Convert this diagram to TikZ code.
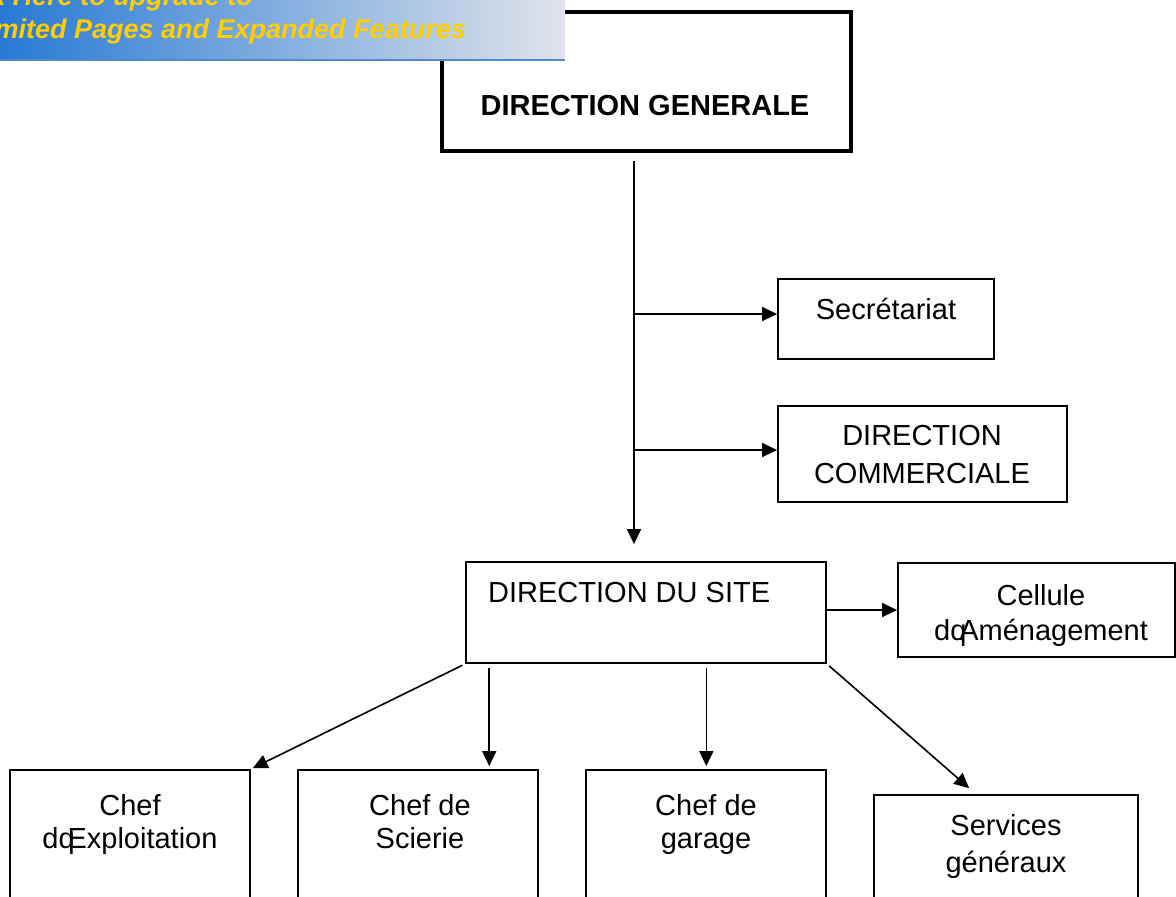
\documentclass[tikz,border=0pt]{standalone}
\usepackage{fontspec}
\setmainfont{Liberation Sans}
\usetikzlibrary{positioning,arrows.meta,calc}
\definecolor{bannerblue}{RGB}{38,120,212}
\definecolor{bannermid}{RGB}{125,168,222}
\definecolor{bannergrey}{RGB}{224,228,234}
\definecolor{bannerline}{RGB}{78,138,208}
\definecolor{bannertext}{RGB}{255,206,0}
\tikzset{
    x=1pt,
    y=-1pt,
    block/.style = {
        draw,
        shape=rectangle,
        inner sep=0pt,
        line width=1.8pt
    },
    chief/.style = {
        block,
        line width=4.5pt
    },
    boxtext/.style = {
        inner sep=0pt,
        anchor=base,
        align=center,
        font=\fontsize{29}{33}\selectfont
    },
    bannerfont/.style = {
        inner sep=0pt,
        text=bannertext,
        font=\fontsize{27}{32}\selectfont\bfseries\itshape
    },
    link/.style = {
        draw,
        line width=1.6pt
    },
    >={Triangle[length=15pt,width=14pt]},
}

\begin{document}
\begin{tikzpicture}
    \useasboundingbox (0,0) rectangle (1176,897);
    \clip (0,0) rectangle (1176,897);

    \node[chief, minimum width=409pt, minimum height=139pt] (dg) at (646.5,81.5) {};
    \node[block, minimum width=216pt, minimum height=80pt] (sec) at (886,319) {};
    \node[block, minimum width=289pt, minimum height=96pt] (dc) at (922.5,454) {};
    \node[block, minimum width=360pt, minimum height=101pt] (dds) at (646,612.5) {};
    \node[block, minimum width=277pt, minimum height=94pt] (cel) at (1036.5,610) {};
    \node[block, minimum width=240pt, minimum height=180pt] (exp) at (130,860) {};
    \node[block, minimum width=240pt, minimum height=180pt] (sci) at (418,860) {};
    \node[block, minimum width=240pt, minimum height=180pt] (gar) at (706,860) {};
    \node[block, minimum width=264pt, minimum height=155pt] (svc) at (1006,872.5) {};

    % two-line texts sit on the baseline of their last line
    \node[boxtext, font=\fontsize{29}{33}\selectfont\bfseries] (dgtext) at (645,115) {DIRECTION GENERALE};
    \node[boxtext] (sectext) at (886,319) {Secrétariat};
    \node[boxtext, font=\fontsize{29}{38}\selectfont] (dctext) at (922,483) {DIRECTION\\COMMERCIALE};
    \node[boxtext, anchor=base west] (ddstext) at (488,602) {DIRECTION DU SITE};
    \node[boxtext, font=\fontsize{29}{35}\selectfont] (celtext) at (1041,640) {Cellule\\d\rlap{q}\hspace{.31em}Aménagement};
    \node[boxtext] (exptext) at (130,848) {Chef\\d\rlap{q}\hspace{.31em}Exploitation};
    \node[boxtext] (scitext) at (420,848) {Chef de\\Scierie};
    \node[boxtext] (gartext) at (706,848) {Chef de\\garage};
    \node[boxtext, font=\fontsize{29}{37}\selectfont] (svctext) at (1006,872) {Services\\généraux};

    \coordinate (trunk) at (634,161);
    \coordinate (secin) at ([yshift=5pt]sec.west);
    \coordinate (dcin) at ([yshift=4pt]dc.west);
    \coordinate (scifoot) at ($(dds.south west)!0.0667!(dds.south east)$);
    \coordinate (garfoot) at ($(dds.south west)!0.6667!(dds.south east)$);
    \coordinate (svcin) at ([xshift=-30pt]svc.north);

    \path[link, ->, shorten >=17pt] (trunk) -- (trunk |- dds.north);
    \path[link, ->] (trunk |- secin) -- (secin);
    \path[link, ->] (trunk |- dcin) -- (dcin);
    \path[link, ->] (dds.east |- cel.west) -- (cel.west);
    \path[link, ->, shorten <=3pt, shorten >=2pt] (dds.south west) -- (exp.north east);
    \path[link, ->, shorten <=4pt, shorten >=3pt] (scifoot) -- (scifoot |- sci.north);
    \path[link, ->, shorten <=4pt, shorten >=3pt] (garfoot) -- (garfoot |- gar.north);
    \path[link, ->, shorten <=3pt, shorten >=9pt] (dds.south east) -- (svcin);

    % converter banner
    \shade[left color=bannerblue, middle color=bannermid, right color=bannergrey] (-5,-5) rectangle (565,60);
    \path[draw, bannerline, line width=2pt] (-5,60) -- (565,60);
    \node[bannerfont, anchor=base east] (clickline) at (253,5) {Click Here to upgrade to};
    \node[bannerfont, anchor=base east] (featline) at (466,38) {Unlimited Pages and Expanded Features};
\end{tikzpicture}
\end{document}
